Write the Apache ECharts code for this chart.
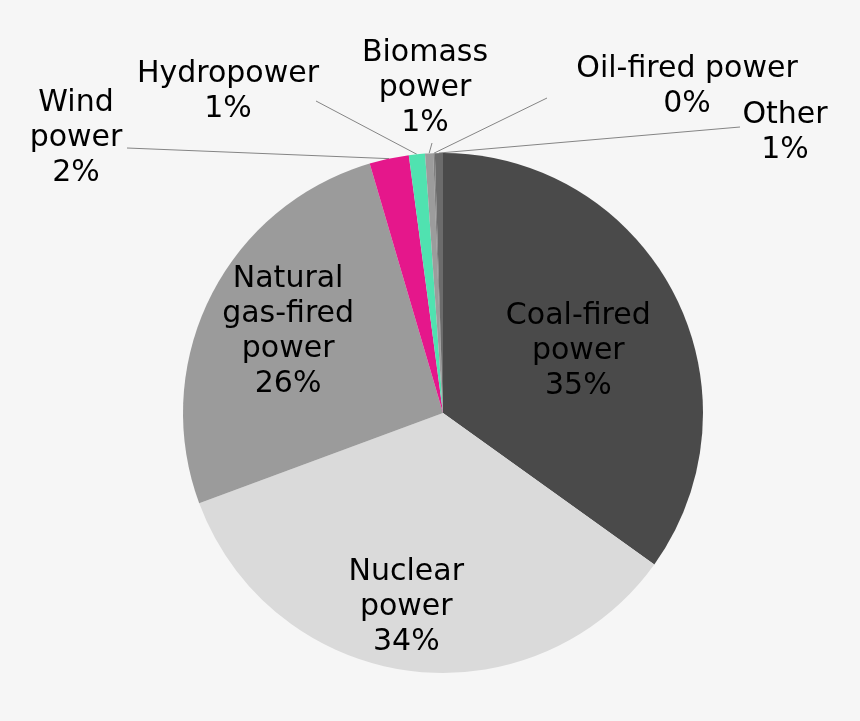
<!DOCTYPE html>
<html>
<head>
<meta charset="utf-8">
<script src="https://cdn.jsdelivr.net/npm/echarts@6.0.0/dist/echarts.min.js"></script>
<style>
    html, body { margin: 0; padding: 0; background: #f6f6f6; }
    #echarts-pie { width: 860px; height: 721px; }
</style>
</head>
<body>
<div id="echarts-pie"></div>
<script>
// share of power generation, clockwise from 12 o'clock
var categories = ['Coal-fired\npower', 'Nuclear\npower', 'Natural\ngas-fired\npower', 'Wind\npower',
    'Hydropower', 'Biomass\npower', 'Oil-fired power', 'Other'];
var shares = [34.9, 34.45, 26.1, 2.45, 1.0, 0.5, 0.1, 0.5];

var sliceColors = ['#4a4a4a', '#dadada', '#9b9b9b', '#e5178b', '#50e2b0', '#9c9c9c', '#808080', '#6b6b6b'];

// big slices keep their label inside, nudged a bit
var insideNudge = {
    0: [17, -1],
    1: [-19, 62],
    2: [-36, -22]
};
// small slices: label block centre and end of its leader line
var outsideSpots = {
    3: {x: 76, y: 138, lx: 127, ly: 148},
    4: {x: 228, y: 92, lx: 316, ly: 101},
    5: {x: 425, y: 88, lx: 432, ly: 143},
    6: {x: 687, y: 87, lx: 547, ly: 98},
    7: {x: 785, y: 133, lx: 740, ly: 127}
};

var myChart = echarts.init(document.getElementById('echarts-pie'));

var pieData = categories.map(function (name, i) {
    var inside = insideNudge[i] != null;
    return {
        name: name,
        value: shares[i],
        itemStyle: {color: sliceColors[i]},
        label: {position: inside ? 'inside' : 'outside'},
        labelLine: {show: !inside}
    };
});

var option = {
    backgroundColor: '#f6f6f6',
    animation: false,
    series: [
        {
            type: 'pie',
            center: [443, 413],
            radius: 260,
            startAngle: 90,
            clockwise: true,
            avoidLabelOverlap: false,
            label: {
                show: true,
                color: '#000',
                fontFamily: 'DejaVu Sans',
                fontSize: 30,
                lineHeight: 35,
                align: 'center',
                textBorderWidth: 0,
                formatter: function (params) {
                    return params.name + '\n' + Math.round(params.percent) + '%';
                }
            },
            labelLine: {
                lineStyle: {
                    color: '#858585',
                    width: 1
                }
            },
            itemStyle: {
                borderWidth: 0
            },
            emphasis: {disabled: true},
            labelLayout: function (params) {
                var i = params.dataIndex;
                if (insideNudge[i]) {
                    return {dx: insideNudge[i][0], dy: insideNudge[i][1]};
                }
                var s = outsideSpots[i];
                var start = params.labelLinePoints ? params.labelLinePoints[0] : [s.lx, s.ly];
                return {
                    x: s.x,
                    y: s.y,
                    align: 'center',
                    verticalAlign: 'middle',
                    labelLinePoints: [start, [s.lx, s.ly], [s.lx, s.ly]]
                };
            },
            data: pieData
        }
    ]
};

myChart.setOption(option);
</script>
</body>
</html>
